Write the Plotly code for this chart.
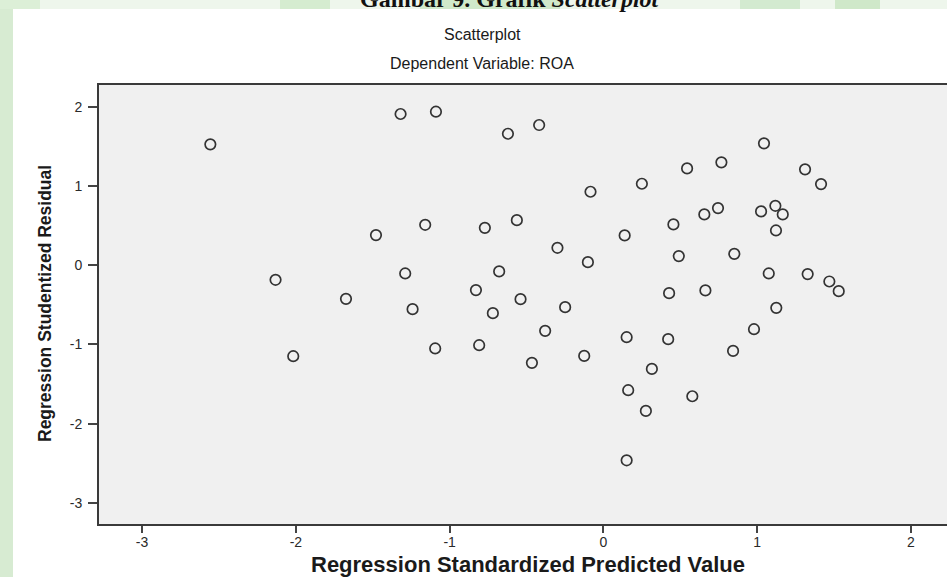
import plotly.graph_objects as go

# Regression diagnostics: standardized predicted value vs studentized residual
pred = [-2.556, -2.132, -2.017, -1.319, -1.089, -0.621, -0.418, -0.084, -1.479, -1.159,
        -0.771, -0.563, 0.138, -0.299, -0.101, -1.289, -0.678, -1.674, -0.829, -1.241,
        -0.539, -0.719, -0.249, -0.379, 0.151, -1.094, -0.808, -0.465, -0.125, 0.161,
        0.151, 1.044, 0.544, 0.767, 1.311, 1.415, 0.250, 0.745, 0.656, 1.025,
        1.118, 1.166, 0.455, 1.122, 0.490, 0.851, 1.075, 1.328, 1.469, 1.530,
        0.427, 0.663, 1.124, 0.979, 0.421, 0.843, 0.315, 0.578, 0.276]
resid = [1.525, -0.184, -1.148, 1.908, 1.937, 1.659, 1.769, 0.927, 0.380, 0.510,
         0.472, 0.569, 0.376, 0.220, 0.039, -0.104, -0.078, -0.424, -0.314, -0.554,
         -0.428, -0.605, -0.529, -0.828, -0.908, -1.050, -1.009, -1.232, -1.144, -1.577,
         -2.461, 1.538, 1.222, 1.298, 1.210, 1.024, 1.028, 0.721, 0.641, 0.679,
         0.750, 0.641, 0.515, 0.439, 0.115, 0.144, -0.104, -0.112, -0.205, -0.327,
         -0.352, -0.318, -0.538, -0.807, -0.933, -1.081, -1.308, -1.653, -1.838]
x_ticks = [-3, -2, -1, 0, 1, 2]
x_tick_labels = ["-3", "-2", "-1", "0", "1", "2"]
y_ticks = [-3, -2, -1, 0, 1, 2]
y_tick_labels = ["-3", "-2", "-1", "0", "1", "2"]

W, H = 947, 577
L, R, T, B = 99, 0, 85, 53
PW, PH = W - L - R, H - T - B


def px(xp):
    """Page pixel column -> paper x coordinate."""
    return (xp - L) / PW


def py(yp):
    """Page pixel row -> paper y coordinate."""
    return (H - B - yp) / PH


fig = go.Figure()
fig.add_trace(go.Scatter(
    x=pred, y=resid, mode="markers",
    marker=dict(symbol="circle-open", size=10.5, color="#333333",
                line=dict(width=1.7, color="#333333")),
    showlegend=False, hoverinfo="x+y",
))

axis_common = dict(
    showgrid=False, zeroline=False, showline=True, linecolor="#3a3a3a",
    linewidth=2, ticks="outside", tickwidth=2, tickcolor="#444444",
    tickfont=dict(family="Liberation Sans, Arial, sans-serif", size=14, color="#2a2a2a"),
)

fig.update_layout(
    width=W, height=H,
    margin=dict(l=L, r=R, t=T, b=B, pad=0),
    paper_bgcolor="white", plot_bgcolor="#f0f0f0",
    xaxis=dict(range=[-3.28, 2.234], tickvals=x_ticks, ticktext=x_tick_labels,
               ticklen=7, mirror=True, ticklabelstandoff=-3, **axis_common),
    yaxis=dict(range=[-3.265, 2.274], tickvals=y_ticks, ticktext=y_tick_labels,
               ticklen=9, ticklabelstandoff=3, **axis_common),
    font=dict(family="Liberation Sans, Arial, sans-serif", color="#1a1a1a"),
)

# Page background bands behind the chart sheet
shapes = [
    dict(type="rect", xref="paper", yref="paper", x0=px(0), x1=px(13), y0=py(H), y1=py(0),
         fillcolor="#d7ebd2", line=dict(width=0), layer="below"),
    dict(type="rect", xref="paper", yref="paper", x0=px(0), x1=px(W), y0=py(9), y1=py(0),
         fillcolor="#eef6ec", line=dict(width=0), layer="below"),
]
for a, b, c in [(0, 40, "#dcefd7"), (280, 330, "#d5ecd0"), (420, 560, "#d0e9ca"),
                (740, 800, "#d3ead0"), (835, 880, "#cfe8c9")]:
    shapes.append(dict(type="rect", xref="paper", yref="paper", x0=px(a), x1=px(b),
                       y0=py(9), y1=py(0), fillcolor=c, line=dict(width=0), layer="below"))
fig.update_layout(shapes=shapes)

annotations = [
    # caption of the page, clipped by the top edge
    dict(text="<b>Gambar 9. Grafik <i>Scatterplot</i></b>", x=px(510), y=py(9),
         xanchor="center", yanchor="bottom", yshift=-5, showarrow=False,
         font=dict(family="Liberation Serif, Times New Roman, serif", size=24, color="#111111")),
    dict(text="Scatterplot", x=px(482), y=py(35), xanchor="center", yanchor="middle",
         showarrow=False, font=dict(size=16, color="#1a1a1a")),
    dict(text="Dependent Variable: ROA", x=px(482), y=py(63), xanchor="center",
         yanchor="middle", showarrow=False, font=dict(size=16, color="#1a1a1a")),
    dict(text="<b>Regression Standardized Predicted Value</b>", x=px(528), y=py(564),
         xanchor="center", yanchor="middle", showarrow=False,
         font=dict(size=22, color="#1a1a1a")),
    dict(text="<b>Regression Studentized Residual</b>", x=px(45), y=py(304),
         xanchor="center", yanchor="middle", textangle=-90, showarrow=False,
         font=dict(size=17.5, color="#1a1a1a")),
]
for a in annotations:
    a.setdefault("xref", "paper")
    a.setdefault("yref", "paper")
fig.update_layout(annotations=annotations)

fig.write_html("out.html")
